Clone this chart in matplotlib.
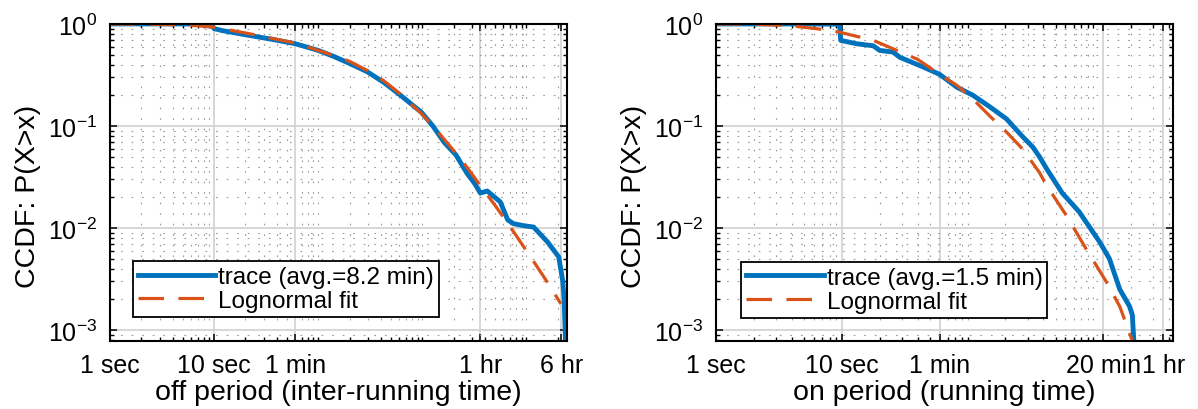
import numpy as np
import matplotlib
matplotlib.use('Agg')
import matplotlib.pyplot as plt
from matplotlib.ticker import FixedLocator, FixedFormatter, LogLocator, NullFormatter

plt.rcParams['font.family'] = ['Liberation Sans', 'DejaVu Sans']
plt.rcParams['mathtext.fontset'] = 'custom'
plt.rcParams['mathtext.rm'] = 'Liberation Sans'
plt.rcParams['mathtext.it'] = 'Liberation Sans:italic'
plt.rcParams['mathtext.bf'] = 'Liberation Sans:bold'

# off period (inter-running time), seconds vs CCDF
off_trace_x = [1, 5, 9.2, 10, 12, 22, 35, 60, 100, 141, 200, 295, 420, 616, 980, 1260,
               1620, 2100, 2700, 3200, 3600, 4200, 5600, 6600, 7500, 9500, 11700,
               15900, 20400, 22300, 23000, 23700]
off_trace_y = [1.0, 1.0, 0.995, 0.90, 0.86, 0.77, 0.71, 0.64, 0.55, 0.48, 0.41, 0.34, 0.27,
               0.20, 0.136, 0.10, 0.069, 0.052, 0.034, 0.027, 0.022, 0.023, 0.018, 0.012,
               0.011, 0.0105, 0.0102, 0.0073, 0.0052, 0.003, 0.002, 0.00075]
off_fit_x = [1, 3, 6, 10, 22, 60, 100, 141, 200, 295, 420, 616, 980, 1260, 1620, 2100,
             2700, 3600, 5000, 7500, 11700, 16000, 21400]
off_fit_y = [1.0, 0.99, 0.97, 0.93, 0.80, 0.65, 0.55, 0.49, 0.43, 0.35, 0.28, 0.205, 0.132,
             0.10, 0.074, 0.054, 0.039, 0.026, 0.0166, 0.0092, 0.0047, 0.0029, 0.0018]

# on period (running time)
on_trace_x = [1, 5, 9.6, 9.8, 13, 17.8, 20, 25.5, 29, 33, 44, 60, 82, 110, 149, 204, 275,
              330, 372, 425, 565, 770, 1120, 1340, 1620, 1940, 2040, 2100]
on_trace_y = [1.0, 1.0, 0.995, 0.69, 0.64, 0.61, 0.55, 0.53, 0.47, 0.44, 0.38, 0.32, 0.24,
              0.20, 0.155, 0.117, 0.078, 0.062, 0.05, 0.038, 0.022, 0.0144, 0.0073, 0.005,
              0.0025, 0.0017, 0.0014, 0.00075]
on_fit_x = [1, 2, 3.9, 6.7, 9.6, 12.3, 17.8, 24, 40, 60, 82, 110, 149, 204, 275, 372, 425,
            616, 870, 1260, 1620, 2040]
on_fit_y = [1.0, 0.995, 0.96, 0.89, 0.83, 0.77, 0.69, 0.59, 0.45, 0.32, 0.25, 0.184, 0.126,
            0.087, 0.059, 0.035, 0.026, 0.013, 0.0063, 0.003, 0.0017, 0.00078]

off_ticks = [1, 10, 60, 3600, 21600]
off_ticklabels = ['1 sec', '10 sec', '1 min', '1 hr', '6 hr']
on_ticks = [1, 10, 60, 1200, 3600]
on_ticklabels = ['1 sec', '10 sec', '1 min', '20 min', '1 hr']
y_ticks = [1e-3, 1e-2, 1e-1, 1]
y_ticklabels = ['$10^{-3}$', '$10^{-2}$', '$10^{-1}$', '$10^{0}$']

blue = '#0072BD'
orange = '#D95319'

fig = plt.figure(figsize=(11.98, 4.10), dpi=100)
ax1 = fig.add_axes([0.0918, 0.166, 0.3815, 0.7732])
ax2 = fig.add_axes([0.5977, 0.166, 0.3815, 0.7732])

panels = [
    (ax1, off_trace_x, off_trace_y, off_fit_x, off_fit_y, off_ticks, off_ticklabels,
     24500, 'off period (inter-running time)', 'trace (avg.=8.2 min)', (0.05, 0.076)),
    (ax2, on_trace_x, on_trace_y, on_fit_x, on_fit_y, on_ticks, on_ticklabels,
     4300, 'on period (running time)', 'trace (avg.=1.5 min)', (0.055, 0.073)),
]

for ax, tx, ty, fx, fy, ticks, labels, xmax, xlab, tlab, lpos in panels:
    ax.set_xscale('log')
    ax.set_yscale('log')
    ax.plot(tx, ty, color=blue, lw=3.5, label=tlab, solid_joinstyle='round')
    ax.plot(fx, fy, color=orange, lw=2.3, dashes=(8, 4.5), label='Lognormal fit')
    ax.set_xlim(1, xmax)
    ax.set_ylim(7.8e-4, 1)

    ax.xaxis.set_major_locator(FixedLocator(ticks))
    ax.xaxis.set_major_formatter(FixedFormatter(labels))
    ax.xaxis.set_minor_locator(LogLocator(base=10, subs=np.arange(1, 10), numticks=20))
    ax.xaxis.set_minor_formatter(NullFormatter())
    ax.yaxis.set_major_locator(FixedLocator(y_ticks))
    ax.yaxis.set_major_formatter(FixedFormatter(y_ticklabels))
    ax.yaxis.set_minor_locator(LogLocator(base=10, subs=np.arange(2, 10), numticks=20))
    ax.yaxis.set_minor_formatter(NullFormatter())

    ax.set_axisbelow(True)
    ax.grid(True, which='major', color='#d4d4d4', lw=1.3, ls='-')
    ax.grid(True, which='minor', color='#9a9a9a', lw=0.8, ls=(0, (1.5, 8)))

    ax.tick_params(which='both', direction='in', top=True, right=True,
                   labelsize=18, colors='black')
    ax.tick_params(which='major', length=5, width=1.1)
    ax.tick_params(which='minor', length=3, width=1.0)
    ax.tick_params(axis='x', pad=9)
    ax.tick_params(axis='y', pad=9)
    for s in ax.spines.values():
        s.set_linewidth(1.5)
        s.set_color('black')

    ax.set_xlabel(xlab, fontsize=20.5, labelpad=1)
    ax.set_ylabel('CCDF: P(X>x)', fontsize=20.5)
    ax.yaxis.set_label_coords(-0.15, 0.46)

    leg = ax.legend(loc='lower left', bbox_to_anchor=lpos, borderaxespad=0,
                    fontsize=17.5, frameon=True, fancybox=False, framealpha=1,
                    edgecolor='black', handlelength=3.2, handletextpad=0.12,
                    labelspacing=0.08, borderpad=0.2)
    leg.get_frame().set_linewidth(1.3)

fig.savefig('out.png', dpi=100)
